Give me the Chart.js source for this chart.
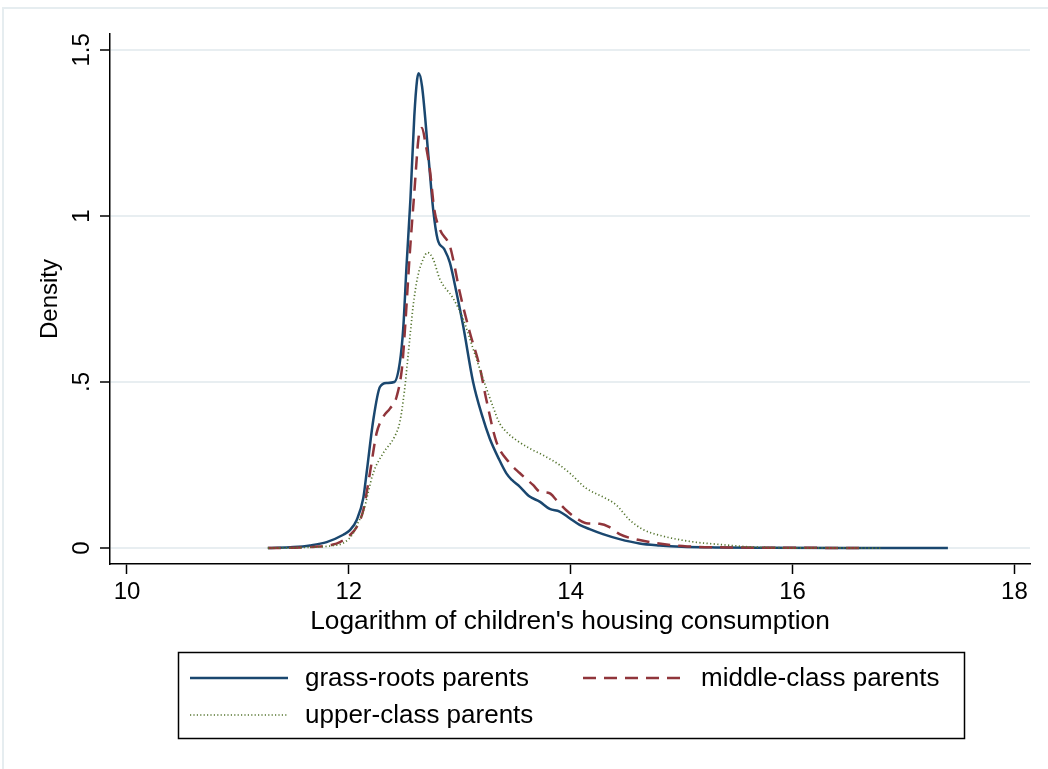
<!DOCTYPE html>
<html>
<head>
<meta charset="utf-8">
<script src="https://cdn.jsdelivr.net/npm/chart.js@4/dist/chart.umd.min.js"></script>
<style>
  html, body { margin: 0; padding: 0; background: #ffffff; }
  #wrap { width: 1048px; height: 769px; position: relative; }
</style>
</head>
<body>
<div id="wrap"><canvas id="c" width="1048" height="769"></canvas></div>
<script>
// Kernel density estimates of log housing consumption, by parental class
const grassX = [11.27, 11.5, 11.65, 11.80, 11.95, 12.01, 12.07, 12.13, 12.16, 12.22, 12.28, 12.34, 12.41, 12.46, 12.49, 12.52, 12.555, 12.59, 12.615, 12.63, 12.66, 12.72, 12.76, 12.80, 12.86, 12.91, 12.97, 13.03, 13.12, 13.20, 13.27, 13.35, 13.42, 13.47, 13.54, 13.63, 13.72, 13.81, 13.90, 13.99, 14.08, 14.17, 14.29, 14.44, 14.62, 14.80, 15.0, 15.3, 15.8, 16.5, 17.4];
const grassY = [0, 0.003, 0.008, 0.018, 0.040, 0.054, 0.084, 0.150, 0.226, 0.385, 0.485, 0.497, 0.500, 0.560, 0.660, 0.850, 1.050, 1.300, 1.410, 1.430, 1.390, 1.170, 1.020, 0.930, 0.900, 0.860, 0.770, 0.670, 0.500, 0.400, 0.330, 0.270, 0.225, 0.205, 0.185, 0.155, 0.140, 0.118, 0.110, 0.090, 0.070, 0.057, 0.042, 0.027, 0.014, 0.008, 0.004, 0.002, 0.001, 0.0005, 0];

const middleX = [11.27, 11.5, 11.7, 11.85, 11.92, 12.00, 12.07, 12.13, 12.19, 12.25, 12.31, 12.37, 12.43, 12.48, 12.50, 12.55, 12.59, 12.63, 12.66, 12.69, 12.73, 12.77, 12.82, 12.91, 12.94, 13.00, 13.09, 13.18, 13.24, 13.33, 13.45, 13.54, 13.66, 13.72, 13.81, 13.87, 13.96, 14.05, 14.14, 14.26, 14.35, 14.44, 14.62, 14.83, 15.05, 15.4, 16.0, 16.65];
const middleY = [0, 0.001, 0.004, 0.010, 0.018, 0.036, 0.063, 0.114, 0.226, 0.346, 0.395, 0.420, 0.455, 0.545, 0.630, 0.890, 1.070, 1.240, 1.265, 1.220, 1.140, 1.020, 0.960, 0.910, 0.870, 0.770, 0.650, 0.545, 0.446, 0.320, 0.256, 0.226, 0.190, 0.170, 0.165, 0.145, 0.114, 0.090, 0.075, 0.073, 0.063, 0.042, 0.024, 0.012, 0.005, 0.002, 0.001, 0];

const upperX = [11.27, 11.5, 11.7, 11.85, 11.95, 12.04, 12.07, 12.13, 12.22, 12.31, 12.41, 12.46, 12.50, 12.53, 12.555, 12.58, 12.62, 12.67, 12.71, 12.76, 12.82, 12.94, 13.03, 13.12, 13.21, 13.30, 13.36, 13.42, 13.51, 13.63, 13.75, 13.90, 13.99, 14.14, 14.29, 14.41, 14.53, 14.65, 14.83, 15.0, 15.14, 15.34, 15.59, 15.9, 16.3, 16.81];
const upperY = [0, 0.001, 0.003, 0.007, 0.015, 0.045, 0.068, 0.110, 0.226, 0.286, 0.334, 0.380, 0.470, 0.566, 0.650, 0.730, 0.816, 0.870, 0.890, 0.870, 0.810, 0.752, 0.690, 0.600, 0.510, 0.425, 0.375, 0.350, 0.325, 0.300, 0.280, 0.250, 0.226, 0.180, 0.154, 0.130, 0.085, 0.056, 0.036, 0.024, 0.017, 0.011, 0.004, 0.001, 0.0004, 0];

const seriesNames = ['grass-roots parents', 'middle-class parents', 'upper-class parents'];
const xTicks = [10, 12, 14, 16, 18];
const yTicks = [0, 0.5, 1, 1.5];
const yTickLabels = ['0', '.5', '1', '1.5'];

const FONT = '"Liberation Sans", Arial, Helvetica, sans-serif';
const colors = ['#1a476f', '#90353b', '#55752f'];

function pts(xs, ys) { return xs.map((x, i) => ({ x: x, y: ys[i] })); }

// Outer graph frame, rotated y tick labels and the boxed legend
const decor = {
  id: 'decor',
  beforeDraw(chart) {
    const ctx = chart.ctx;
    ctx.save();
    ctx.fillStyle = '#ffffff';
    ctx.fillRect(0, 0, chart.width, chart.height);
    ctx.strokeStyle = '#e6edf0';
    ctx.lineWidth = 2;
    ctx.strokeRect(3, 8, 1060, 780);
    ctx.restore();
  },
  afterDraw(chart) {
    const ctx = chart.ctx;
    const ys = chart.scales.y;
    ctx.save();
    ctx.fillStyle = '#000000';
    ctx.font = '24px ' + FONT;
    ctx.textAlign = 'center';
    ctx.textBaseline = 'alphabetic';
    yTicks.forEach((v, i) => {
      const py = ys.getPixelForValue(v);
      ctx.save();
      ctx.translate(89, py);
      ctx.rotate(-Math.PI / 2);
      ctx.fillText(yTickLabels[i], 0, 0);
      ctx.restore();
    });

    // legend box
    ctx.strokeStyle = '#000000';
    ctx.lineWidth = 1.5;
    ctx.strokeRect(178.5, 652.5, 786, 86);
    const entries = [
      { x0: 190, x1: 288, y: 678, tx: 305, dash: [], w: 2.5 },
      { x0: 583, x1: 683, y: 678, tx: 701, dash: [13, 8], w: 2.5 },
      { x0: 190, x1: 288, y: 715, tx: 305, dash: [1.2, 2.2], w: 1.5 }
    ];
    ctx.font = '26px ' + FONT;
    ctx.textAlign = 'left';
    ctx.textBaseline = 'middle';
    entries.forEach((e, i) => {
      ctx.beginPath();
      ctx.setLineDash(e.dash);
      ctx.strokeStyle = colors[i];
      ctx.lineWidth = e.w;
      ctx.moveTo(e.x0, e.y);
      ctx.lineTo(e.x1, e.y);
      ctx.stroke();
      ctx.setLineDash([]);
      ctx.fillStyle = '#000000';
      ctx.fillText(seriesNames[i], e.tx, e.y + 1);
    });
    ctx.restore();
  }
};

new Chart(document.getElementById('c'), {
  type: 'line',
  data: {
    datasets: [
      { label: seriesNames[0], data: pts(grassX, grassY), borderColor: colors[0], borderWidth: 2.5, order: 3 },
      { label: seriesNames[1], data: pts(middleX, middleY), borderColor: colors[1], borderWidth: 2.5, borderDash: [13, 8], order: 2 },
      { label: seriesNames[2], data: pts(upperX, upperY), borderColor: colors[2], borderWidth: 1.7, borderDash: [1.2, 2.4], order: 1 }
    ]
  },
  options: {
    responsive: false,
    animation: false,
    devicePixelRatio: 1,
    layout: { padding: { top: 34, right: 18, left: 0, bottom: 131.4 } },
    elements: {
      point: { radius: 0 },
      line: { cubicInterpolationMode: 'monotone', fill: false }
    },
    plugins: { legend: { display: false }, tooltip: { enabled: false } },
    scales: {
      x: {
        type: 'linear',
        min: 9.847,
        max: 18.14,
        afterBuildTicks(s) { s.ticks = xTicks.map(v => ({ value: v })); },
        afterFit(s) { s.height = 73.6; },
        grid: { drawOnChartArea: false, drawTicks: true, tickLength: 10, tickColor: '#000000', tickWidth: 1.5 },
        border: { display: true, color: '#000000', width: 1.5 },
        ticks: { color: '#000000', font: { family: FONT, size: 24 }, padding: 4, maxRotation: 0, autoSkip: false },
        title: { display: true, text: "Logarithm of children's housing consumption", color: '#000000', font: { family: FONT, size: 26.3 }, padding: { top: 0, bottom: 0 } }
      },
      y: {
        type: 'linear',
        min: -0.048,
        max: 1.548,
        afterBuildTicks(s) { s.ticks = yTicks.map(v => ({ value: v })); },
        afterFit(s) { s.width = 110; },
        grid: { color: '#e8eef1', lineWidth: 2, drawTicks: true, tickLength: 10, tickColor: '#000000', tickWidth: 1.5 },
        border: { display: true, color: '#000000', width: 1.5 },
        ticks: { display: false },
        title: { display: true, text: 'Density', color: '#000000', font: { family: FONT, size: 24 }, padding: { top: 36, bottom: 0 } }
      }
    }
  },
  plugins: [decor]
});
</script>
</body>
</html>
